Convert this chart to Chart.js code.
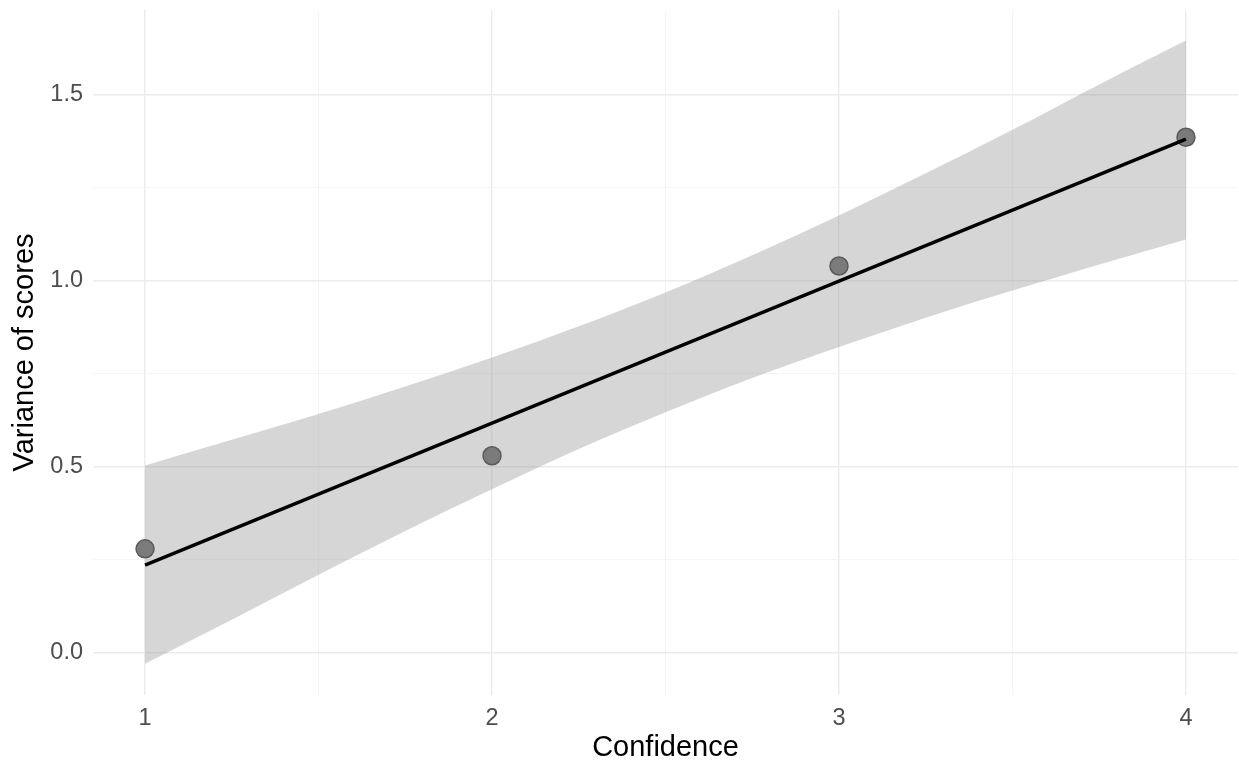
<!DOCTYPE html>
<html>
<head>
<meta charset="utf-8">
<script src="https://cdn.jsdelivr.net/npm/chart.js@4.4.1/dist/chart.umd.min.js"></script>
<style>
    html, body { margin: 0; padding: 0; background: #ffffff; }
    #wrap { width: 1239px; height: 763px; }
</style>
</head>
<body>
<div id="wrap"><canvas id="varChart" width="1239" height="763"></canvas></div>
<script>
// observed points
const confidence = [1, 2, 3, 4];
const variance = [0.279, 0.529, 1.039, 1.385];

// fitted line (ends)
const fitX = [1, 4];
const fitY = [0.235, 1.38];

// confidence band
const bandX = [1, 1.25, 1.5, 1.75, 2, 2.25, 2.5, 2.75, 3, 3.25, 3.5, 3.75, 4];
const bandUpper = [0.503, 0.572, 0.641, 0.715, 0.793, 0.877, 0.968, 1.068, 1.175, 1.288, 1.405, 1.527, 1.645];
const bandLower = [-0.03, 0.088, 0.209, 0.327, 0.439, 0.547, 0.646, 0.738, 0.821, 0.900, 0.973, 1.043, 1.110];

const xTicks = [1, 1.5, 2, 2.5, 3, 3.5, 4];
const yTicks = [0, 0.25, 0.5, 0.75, 1, 1.25, 1.5];

const pts = (xs, ys) => xs.map((x, i) => ({ x: x, y: ys[i] }));
const isMajor = (v, step) => Math.abs(v / step - Math.round(v / step)) < 1e-6;

// keep chart area where the reference has it: no label overflow padding
const noPad = (scale) => {
    scale.paddingTop = 0;
    scale.paddingBottom = 0;
    scale.paddingLeft = 0;
    scale.paddingRight = 0;
};

const FONT = '"Liberation Sans", Arial, sans-serif';

new Chart(document.getElementById('varChart'), {
    type: 'line',
    data: {
        datasets: [{
            label: 'fit',
            data: pts(fitX, fitY),
            borderColor: '#000000',
            borderWidth: 3.3,
            pointRadius: 0,
            fill: false,
            order: 0
        }, {
            label: 'points',
            data: pts(confidence, variance),
            showLine: false,
            pointRadius: 9,
            pointBackgroundColor: '#7b7b7b',
            pointBorderColor: '#5a5a5a',
            pointBorderWidth: 1.5,
            order: 1
        }, {
            label: 'upper',
            data: pts(bandX, bandUpper),
            borderWidth: 0,
            borderColor: 'rgba(0,0,0,0)',
            backgroundColor: 'rgba(153,153,153,0.4)',
            pointRadius: 0,
            cubicInterpolationMode: 'monotone',
            fill: '+1',
            order: 2
        }, {
            label: 'lower',
            data: pts(bandX, bandLower),
            borderWidth: 0,
            borderColor: 'rgba(0,0,0,0)',
            pointRadius: 0,
            cubicInterpolationMode: 'monotone',
            fill: false,
            order: 3
        }]
    },
    options: {
        responsive: false,
        animation: false,
        events: [],
        layout: {
            autoPadding: false,
            padding: { left: 0, right: 1, top: 10, bottom: 0 }
        },
        plugins: {
            legend: { display: false },
            tooltip: { enabled: false }
        },
        scales: {
            x: {
                type: 'linear',
                min: 0.85,
                max: 4.15,
                afterBuildTicks: (scale) => { scale.ticks = xTicks.map(v => ({ value: v })); },
                afterFit: (scale) => { scale.height = 68; noPad(scale); },
                border: { display: false },
                grid: {
                    drawTicks: false,
                    color: (ctx) => isMajor(ctx.tick.value, 1) ? '#ebebeb' : '#f2f2f2',
                    lineWidth: (ctx) => isMajor(ctx.tick.value, 1) ? 1.4 : 0.8
                },
                ticks: {
                    padding: 9,
                    maxRotation: 0,
                    autoSkip: false,
                    color: '#4d4d4d',
                    font: { family: FONT, size: 23.5 },
                    callback: (v) => isMajor(v, 1) ? String(v) : ''
                },
                title: {
                    display: true,
                    text: 'Confidence',
                    color: '#000000',
                    font: { family: FONT, size: 29, lineHeight: 1.05 },
                    padding: { top: 0, bottom: 0 }
                }
            },
            y: {
                type: 'linear',
                min: -0.114,
                max: 1.727,
                afterBuildTicks: (scale) => { scale.ticks = yTicks.map(v => ({ value: v })); },
                afterFit: (scale) => { scale.width = 93; noPad(scale); },
                border: { display: false },
                grid: {
                    drawTicks: false,
                    color: (ctx) => isMajor(ctx.tick.value, 0.5) ? '#ebebeb' : '#f2f2f2',
                    lineWidth: (ctx) => isMajor(ctx.tick.value, 0.5) ? 1.4 : 0.8
                },
                ticks: {
                    padding: 10,
                    autoSkip: false,
                    color: '#4d4d4d',
                    font: { family: FONT, size: 23.5 },
                    callback: (v) => isMajor(v, 0.5) ? v.toFixed(1) : ''
                },
                title: {
                    display: true,
                    text: 'Variance of scores',
                    color: '#000000',
                    font: { family: FONT, size: 29, lineHeight: 1.0 },
                    padding: { top: 10, bottom: 0 }
                }
            }
        }
    }
});
</script>
</body>
</html>
